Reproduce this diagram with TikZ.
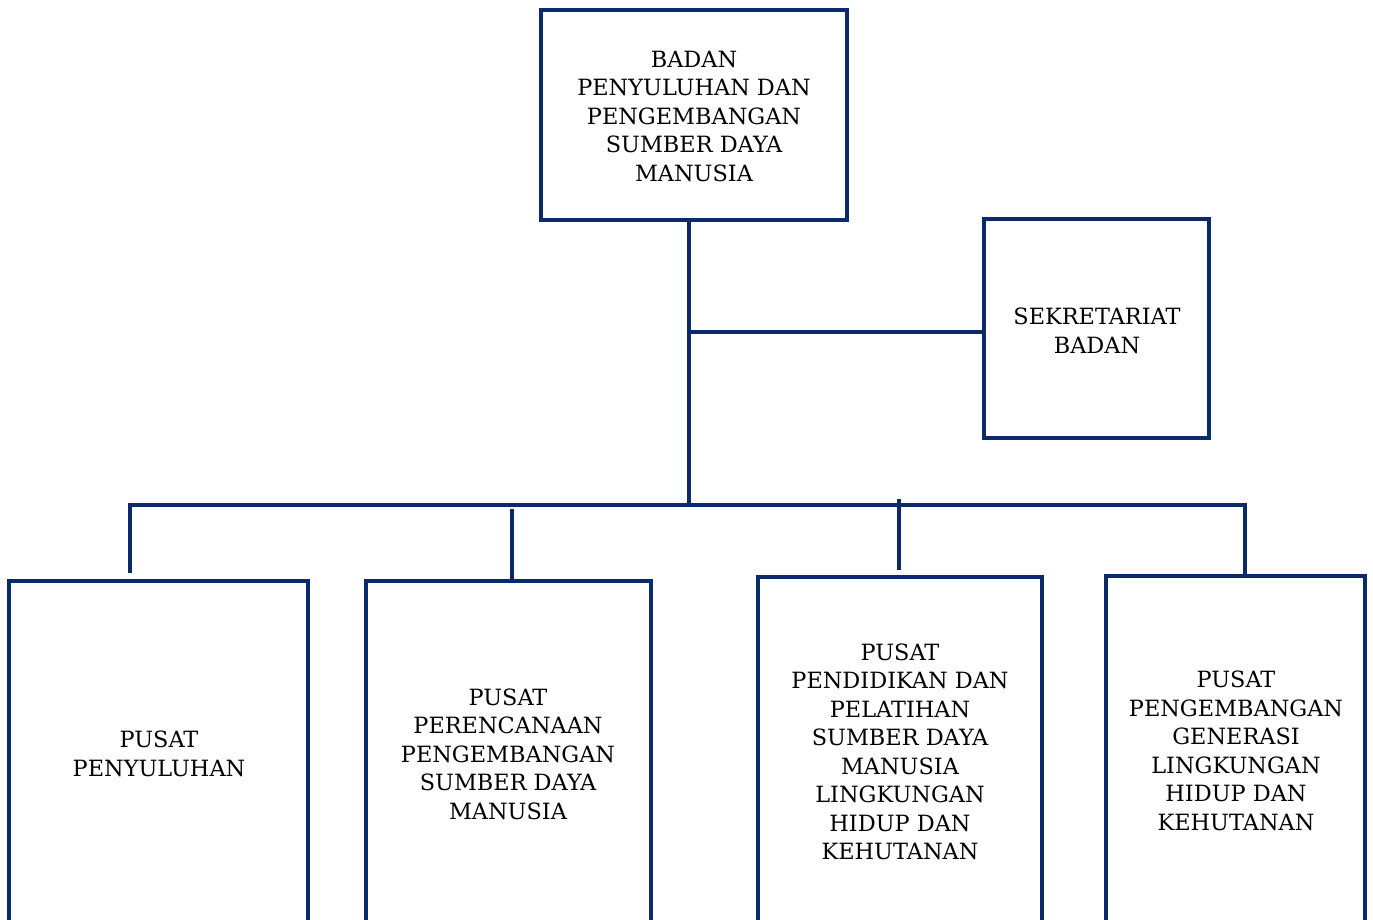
\documentclass[tikz,border=0pt]{standalone}
\usepackage{fontspec}
\setmainfont{DejaVu Serif}
\usepackage{tikz}
\definecolor{navy}{HTML}{0B2A6B}
\begin{document}
\begin{tikzpicture}[x=1pt,y=-1pt,
  boxstyle/.style={draw=navy,line width=4.3pt,rectangle,inner sep=0pt,outer sep=0pt},
  txt/.style={align=center,font=\fontsize{22.4}{28.5}\selectfont,inner sep=0pt,text=black},
  conn/.style={draw=navy,line width=4.3pt}]
\useasboundingbox (0,0) rectangle (1373,920);
\clip (0,0) rectangle (1373,920);
% boxes
\node[boxstyle,minimum width=306pt,minimum height=210pt] (top) at (694,115) {};
\node[boxstyle,minimum width=225pt,minimum height=219pt] (sek) at (1096.5,328.5) {};
\node[boxstyle,minimum width=299pt,minimum height=400pt] (b1) at (158.5,781) {};
\node[boxstyle,minimum width=285pt,minimum height=400pt] (b2) at (508.5,781) {};
\node[boxstyle,minimum width=284pt,minimum height=400pt] (b3) at (900,777) {};
\node[boxstyle,minimum width=259pt,minimum height=400pt] (b4) at (1235.5,776) {};
% texts
\node[txt] (ttop) at (694,116) {BADAN\\PENYULUHAN DAN\\PENGEMBANGAN\\SUMBER DAYA\\MANUSIA};
\node[txt] (tsek) at (1097,331) {SEKRETARIAT\\BADAN};
\node[txt] (t1) at (159,754) {PUSAT\\PENYULUHAN};
\node[txt] (t2) at (508,754) {PUSAT\\PERENCANAAN\\PENGEMBANGAN\\SUMBER DAYA\\MANUSIA};
\node[txt] (t3) at (900,752) {PUSAT\\PENDIDIKAN DAN\\PELATIHAN\\SUMBER DAYA\\MANUSIA\\LINGKUNGAN\\HIDUP DAN\\KEHUTANAN};
\node[txt] (t4) at (1236,751) {PUSAT\\PENGEMBANGAN\\GENERASI\\LINGKUNGAN\\HIDUP DAN\\KEHUTANAN};
% connector points
\coordinate (trunk) at (689,505);
\coordinate (sekj) at (689,332);
\coordinate (busL) at (130,505);
\coordinate (busR) at (1245,505);
\coordinate (d1) at (130,573);
\coordinate (d2t) at (512,509);
\coordinate (d3t) at (899,499);
\coordinate (d3b) at (899,570);
\coordinate (d4) at (1245,575);
% connectors
\draw[conn] (top.south -| trunk) -- (trunk);
\draw[conn] (sekj) -- (sekj -| sek.west);
\draw[conn] (d1) -- (busL) -- (busR) -- (d4);
\draw[conn] (d2t) -- (d2t |- b2.north);
\draw[conn] (d3t) -- (d3b);
\end{tikzpicture}
\end{document}
